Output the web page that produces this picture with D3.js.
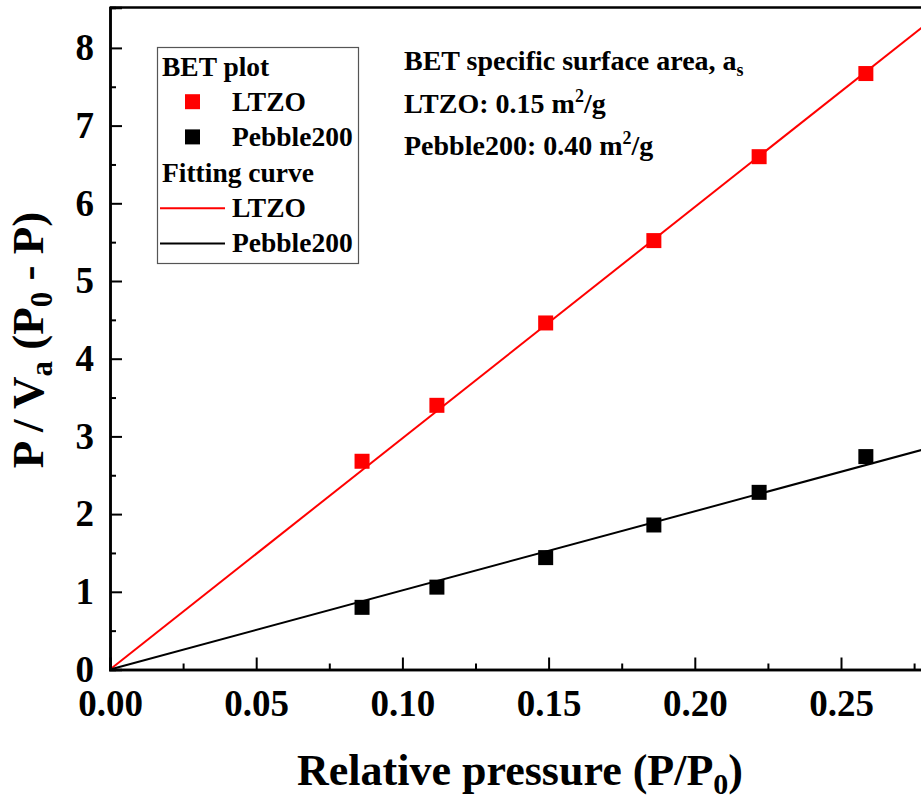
<!DOCTYPE html>
<html>
<head>
<meta charset="utf-8">
<script src="https://cdn.jsdelivr.net/npm/d3@7"></script>
<style>
  html, body { margin: 0; padding: 0; background: #fff; overflow: hidden; }
  svg { display: block; font-family: "Liberation Serif", "Times New Roman", serif; font-weight: bold; }
</style>
</head>
<body>
<svg id="chart" width="921" height="798"></svg>
<script>
// measured values (relative pressure vs P/Va(P0-P))
const pressure = [0.0862, 0.1118, 0.149, 0.186, 0.222, 0.2585];
const ltzoVals = [2.68, 3.40, 4.46, 5.52, 6.60, 7.67];
const pebbleVals = [0.80, 1.06, 1.44, 1.86, 2.28, 2.74];

// linear fits through the origin: [slope, intercept]
const ltzoFit = [29.76, 0];
const pebbleFit = [10.18, 0];

const xTicks = [0, 0.05, 0.10, 0.15, 0.20, 0.25];
const xMinorTicks = [0.025, 0.075, 0.125, 0.175, 0.225, 0.275];
const yTicks = [0, 1, 2, 3, 4, 5, 6, 7, 8];
const yMinorTicks = [0.5, 1.5, 2.5, 3.5, 4.5, 5.5, 6.5, 7.5];

const svg = d3.select('#chart');

const plotLeft = 110, plotBottom = 669.5, plotTop = 7.5;
const xMax = 0.285, yMax = 8.52;

const x = d3.scaleLinear().domain([0, xMax]).range([plotLeft, plotLeft + xMax * 2924]);
const y = d3.scaleLinear().domain([0, yMax]).range([plotBottom, plotTop]);

// frame top line (right side is cut off in the picture)
svg.append('line')
  .attr('x1', plotLeft).attr('x2', 930)
  .attr('y1', plotTop).attr('y2', plotTop)
  .attr('stroke', '#000').attr('stroke-width', 2.5);

// fit lines
function drawFit(fit, color) {
  const pts = [0, xMax].map(v => [v, fit[0] * v + fit[1]]);
  svg.append('path')
    .datum(pts)
    .attr('fill', 'none')
    .attr('stroke', color)
    .attr('stroke-width', 2)
    .attr('d', d3.line().x(d => x(d[0])).y(d => y(d[1])));
}
drawFit(ltzoFit, '#ff0000');
drawFit(pebbleFit, '#000000');

// markers
const size = 15;
function drawPoints(vals, color) {
  svg.append('g').selectAll('rect')
    .data(vals)
    .join('rect')
    .attr('x', (d, i) => x(pressure[i]) - size / 2)
    .attr('y', d => y(d) - size / 2)
    .attr('width', size)
    .attr('height', size)
    .attr('fill', color);
}
drawPoints(ltzoVals, '#ff0000');
drawPoints(pebbleVals, '#000000');

// axes
svg.append('g')
  .attr('transform', `translate(0,${plotBottom})`)
  .call(d3.axisBottom(x).tickValues(xTicks).tickSize(-12).tickPadding(20)
    .tickFormat(d3.format('.2f')));
svg.append('g')
  .attr('transform', `translate(0,${plotBottom})`)
  .call(d3.axisBottom(x).tickValues(xMinorTicks).tickSize(-6).tickFormat(''));

svg.append('g')
  .attr('transform', `translate(${plotLeft},0)`)
  .call(d3.axisLeft(y).tickValues(yTicks).tickSize(-12).tickPadding(16)
    .tickFormat(d3.format('d')));
svg.append('g')
  .attr('transform', `translate(${plotLeft},0)`)
  .call(d3.axisLeft(y).tickValues(yMinorTicks).tickSize(-6).tickFormat(''));

svg.selectAll('.domain').attr('stroke', '#000').attr('stroke-width', 2.5);
svg.selectAll('.tick line').attr('stroke', '#000').attr('stroke-width', 2);
svg.selectAll('.tick text')
  .attr('font-family', '"Liberation Serif", serif')
  .attr('font-weight', 'bold')
  .attr('font-size', 37)
  .attr('fill', '#000');

// axis titles
const xt = svg.append('text')
  .attr('x', 520).attr('y', 785)
  .attr('text-anchor', 'middle')
  .attr('font-size', 44);
xt.append('tspan').text('Relative pressure (P/P');
xt.append('tspan').attr('font-size', 30).attr('dy', 9).text('0');
xt.append('tspan').attr('dy', -9).text(')');

const yt = svg.append('text')
  .attr('transform', 'translate(43,340) rotate(-90)')
  .attr('text-anchor', 'middle')
  .attr('font-size', 45);
yt.append('tspan').text('P / V');
yt.append('tspan').attr('font-size', 31).attr('dy', 9).text('a');
yt.append('tspan').attr('dy', -9).text(' (P');
yt.append('tspan').attr('font-size', 31).attr('dy', 9).text('0');
yt.append('tspan').attr('dy', -9).text(' - P)');

// legend
const lg = svg.append('g');
lg.append('rect')
  .attr('x', 157.5).attr('y', 47.5)
  .attr('width', 201).attr('height', 216)
  .attr('fill', '#fff').attr('stroke', '#555').attr('stroke-width', 1.2);

const legendRows = [
  { label: 'BET plot', kind: 'head' },
  { label: 'LTZO', kind: 'box', color: '#ff0000' },
  { label: 'Pebble200', kind: 'box', color: '#000000' },
  { label: 'Fitting curve', kind: 'head' },
  { label: 'LTZO', kind: 'line', color: '#ff0000' },
  { label: 'Pebble200', kind: 'line', color: '#000000' }
];
legendRows.forEach((r, i) => {
  const base = 76 + i * 35.2;
  if (r.kind === 'head') {
    lg.append('text').attr('x', 162).attr('y', base).attr('font-size', 27.5).text(r.label);
    return;
  }
  if (r.kind === 'box') {
    lg.append('rect').attr('x', 185).attr('y', base - 17).attr('width', size).attr('height', size).attr('fill', r.color);
  } else {
    lg.append('line').attr('x1', 160).attr('x2', 225).attr('y1', base - 8.5).attr('y2', base - 8.5)
      .attr('stroke', r.color).attr('stroke-width', 2);
  }
  lg.append('text').attr('x', 232).attr('y', base).attr('font-size', 27.5).text(r.label);
});

// annotation
const ann = svg.append('g').attr('font-size', 28);
const a1 = ann.append('text').attr('x', 404).attr('y', 70);
a1.append('tspan').text('BET specific surface area, a');
a1.append('tspan').attr('font-size', 18).attr('dy', 6).text('s');

const a2 = ann.append('text').attr('x', 404).attr('y', 113);
a2.append('tspan').text('LTZO: 0.15 m');
a2.append('tspan').attr('font-size', 18).attr('dy', -11).text('2');
a2.append('tspan').attr('dy', 11).text('/g');

const a3 = ann.append('text').attr('x', 404).attr('y', 155);
a3.append('tspan').text('Pebble200: 0.40 m');
a3.append('tspan').attr('font-size', 18).attr('dy', -11).text('2');
a3.append('tspan').attr('dy', 11).text('/g');
</script>
</body>
</html>
